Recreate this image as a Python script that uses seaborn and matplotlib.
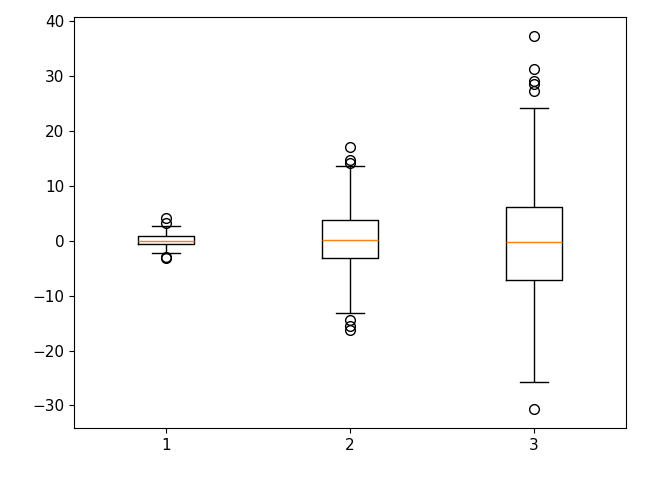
import matplotlib
matplotlib.use("Agg")
import matplotlib.pyplot as plt
import seaborn as sns
import pandas as pd

groups = ["1", "2", "3"]

group1 = [-3.2, -2.9, -2.3, -1.8, -1.2, -0.9,
          -0.65, -0.55, -0.45, -0.35, -0.25, -0.15,
          -0.05, 0.1, 0.2, 0.35, 0.5, 0.65,
          0.8, 1.2, 1.6, 2.0, 2.6, 3.3, 4.2]
group2 = [-16.2, -15.5, -14.4, -13.15, -8.0, -5.0,
          -3.2, -2.5, -2.0, -1.5, -1.0, -0.5,
          0.1, 0.5, 1.0, 1.5, 2.0, 3.0,
          3.7, 6.0, 9.0, 13.6, 14.1, 14.6, 17.1]
group3 = [-30.7, -25.8, -20.0, -15.0, -11.0, -9.0,
          -7.1, -6.0, -5.0, -3.5, -2.0, -1.0,
          -0.2, 1.0, 2.0, 3.0, 4.0, 5.0,
          6.2, 24.2, 27.3, 28.5, 29.1, 31.2, 37.3]

df = pd.DataFrame({
    "group": [groups[0]] * len(group1) + [groups[1]] * len(group2) + [groups[2]] * len(group3),
    "value": group1 + group2 + group3,
})

fig = plt.figure(figsize=(6.46, 4.87), dpi=100)
ax = fig.add_axes([74 / 646, 1 - 428 / 487, (626 - 74) / 646, (428 - 17) / 487])

sns.boxplot(
    data=df, x="group", y="value", order=groups, ax=ax,
    width=0.3, fill=False, color="black", linecolor="black", linewidth=1.0,
    whis=1.5,
    medianprops=dict(color="#ff7f0e", linewidth=1.0),
    flierprops=dict(marker="o", markersize=7, markerfacecolor="none",
                    markeredgecolor="black", markeredgewidth=1.0),
)

ax.set_xlabel("")
ax.set_ylabel("")
ax.set_xlim(-0.5, 2.5)
ax.set_yticks([-30, -20, -10, 0, 10, 20, 30, 40])
ax.set_yticklabels(["\u221230", "\u221220", "\u221210", "0", "10", "20", "30", "40"])
ax.tick_params(labelsize=11)
for s in ax.spines.values():
    s.set_visible(True)
    s.set_color("black")
    s.set_linewidth(0.8)

fig.savefig("out.png", dpi=100)
